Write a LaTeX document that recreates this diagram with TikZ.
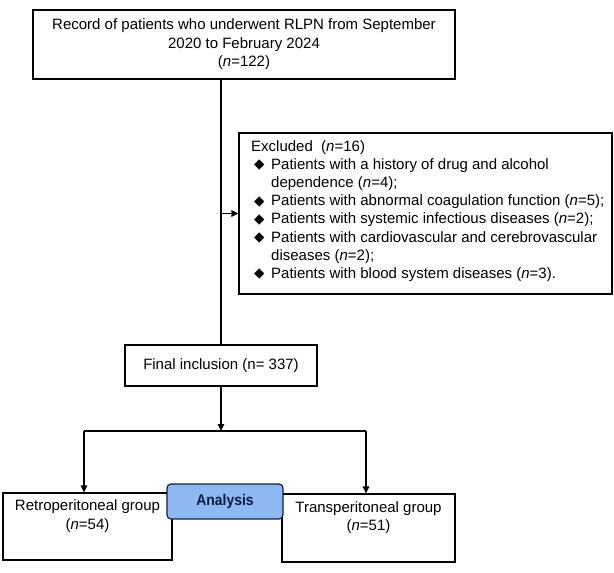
\documentclass[tikz,border=0pt]{standalone}
\usepackage{fontspec}
\setmainfont{Liberation Sans}
\newfontfamily\dejavu{DejaVu Sans}
\usetikzlibrary{arrows.meta}
\definecolor{anafill}{HTML}{8DB8F2}
\definecolor{anadraw}{HTML}{10203F}
\definecolor{anatext}{HTML}{0A1A45}
\tikzset{
  box/.style={draw=black, line width=1.2pt, fill=white, inner sep=0pt, align=center,
    font=\fontsize{15}{18.5}\selectfont},
  conn/.style={line width=1.2pt},
  arr/.style={line width=1.2pt, -{Triangle[length=7pt,width=6.5pt]}},
  anabox/.style={draw=anadraw, fill=anafill, line width=1.2pt, rounded corners=4pt,
    inner sep=0pt, font=\bfseries\fontsize{15.5}{16}\selectfont, text=anatext},
  txt/.style={inner sep=0pt, align=left, font=\fontsize{15}{18.2}\selectfont}
}
\newcommand{\dia}{\hspace*{3pt}\makebox[17pt][l]{\raisebox{0.5pt}{\dejavu\fontsize{13.5}{13.5}\selectfont ◆}}}
\newcommand{\cont}{\hspace*{20pt}}
\begin{document}
\begin{tikzpicture}[x=1pt,y=-1pt]
\useasboundingbox (0,0) rectangle (614,573);
\fill[white] (0,0) rectangle (614,573);
\node[box, minimum width=422pt, minimum height=69pt] (top) at (244,44.5)
  {Record of patients who underwent RLPN from September\\2020 to February 2024\\(\textit{n}=122)};
\node[box, minimum width=192pt, minimum height=41pt] (fin) at (221,365.5)
  {Final inclusion (n= 337)};
\node[box, minimum width=373pt, minimum height=161pt] (excl) at (425.5,213.5) {};
\node[txt, anchor=north west] (excltxt) at (251,140)
  {Excluded\ \ (\textit{n}=16)\\
   \dia Patients with a history of drug and alcohol\\
   \cont dependence (\textit{n}=4);\\
   \dia Patients with abnormal coagulation function (\textit{n}=5);\\
   \dia Patients with systemic infectious diseases (\textit{n}=2);\\
   \dia Patients with cardiovascular and cerebrovascular\\
   \cont diseases (\textit{n}=2);\\
   \dia Patients with blood system diseases (\textit{n}=3).};
\node[box, minimum width=169pt, minimum height=67pt] (lg) at (87.5,526.5)
  {Retroperitoneal group\\(\textit{n}=54)\\\strut};
\node[box, minimum width=173pt, minimum height=68pt] (rg) at (368.5,528)
  {Transperitoneal group\\(\textit{n}=51)\\\strut};
\node[anabox, minimum width=116pt, minimum height=35pt] (ana) at (225,501.5) {\scalebox{0.9}[1]{Analysis}};
\coordinate (j) at (221,431);
\coordinate (jl) at (84,431);
\coordinate (jr) at (366,431);
\draw[conn] (top.south -| fin.north) -- (fin.north);
\draw[arr] (excl.west -| fin.north) -- (excl.west);
\draw[arr] (fin.south) -- (j);
\draw[conn] (jl) -- (jr);
\draw[arr] (jl) -- (jl |- lg.north);
\draw[arr] (jr) -- (jr |- rg.north);
\end{tikzpicture}
\end{document}
